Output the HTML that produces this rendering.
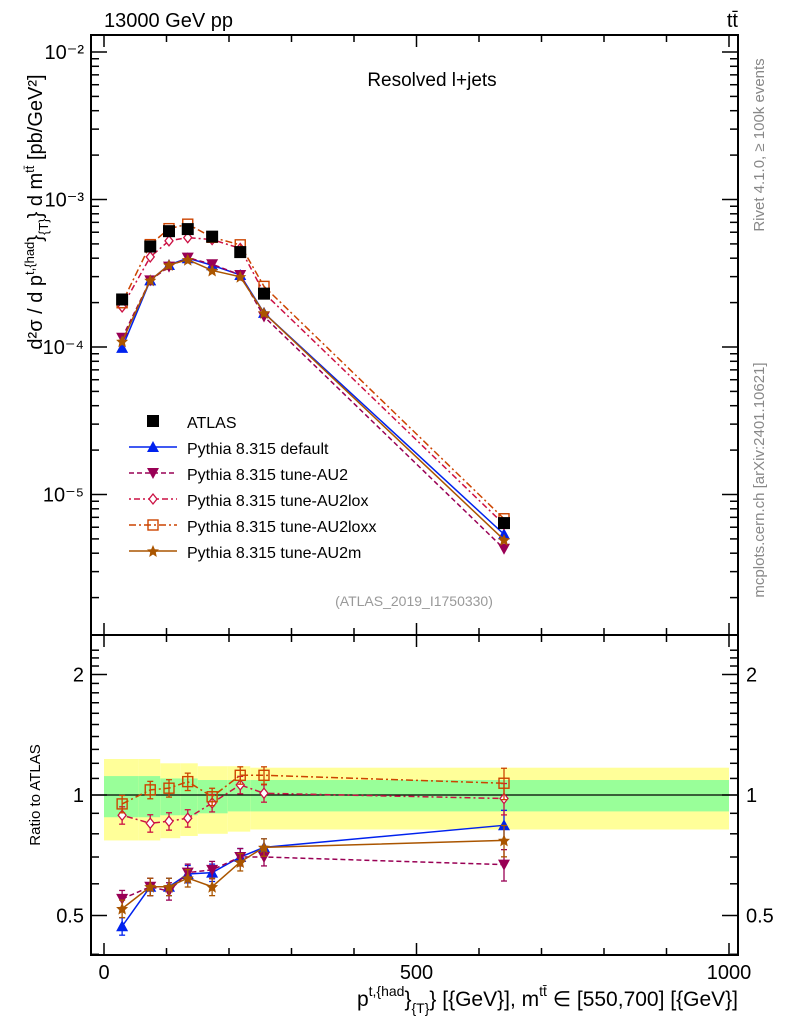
<!DOCTYPE html>
<html><head><meta charset="utf-8"><style>
body{margin:0;background:#fff}
svg text{font-family:"Liberation Sans",sans-serif}
</style></head><body>
<svg id="c" width="786" height="1024" xmlns="http://www.w3.org/2000/svg">
<text x="104" y="27" font-size="20">13000 GeV pp</text>
<text x="738" y="27" font-size="20" text-anchor="end">tt̄</text>
<text x="432" y="86" font-size="19" text-anchor="middle">Resolved l+jets</text>
<text x="414" y="606" font-size="14" fill="#999" text-anchor="middle">(ATLAS_2019_I1750330)</text>
<text transform="translate(764,145) rotate(-90)" font-size="15" fill="#888" text-anchor="middle">Rivet 4.1.0, ≥ 100k events</text>
<text transform="translate(764,480) rotate(-90)" font-size="15" fill="#888" text-anchor="middle">mcplots.cern.ch [arXiv:2401.10621]</text>
<text transform="translate(42,212) rotate(-90)" font-size="20" text-anchor="middle">d²σ / d p<tspan font-size="13" dy="-8">t,{had</tspan><tspan dy="8">}</tspan><tspan font-size="13" dy="6">{T}</tspan><tspan dy="-6">} d m</tspan><tspan font-size="13" dy="-8">tt̄</tspan><tspan dy="8"> [pb/GeV²]</tspan></text>
<text transform="translate(40,795) rotate(-90)" font-size="15" text-anchor="middle">Ratio to ATLAS</text>
<text x="738" y="1006" font-size="21" text-anchor="end">p<tspan font-size="14" dy="-10">t,{had</tspan><tspan dy="10">}</tspan><tspan font-size="14" dy="7">{T}</tspan><tspan dy="-7">} [{GeV}], m</tspan><tspan font-size="14" dy="-10">tt̄</tspan><tspan dy="10"> ∈ [550,700] [{GeV}]</tspan></text>
<g id="g"></g>
</svg>
<script>
const xs=[29,74,104,134,173,218,256,640];
const atlas=[2.1e-4,4.8e-4,6.1e-4,6.3e-4,5.6e-4,4.4e-4,2.3e-4,6.4e-6];
const rDefault=[0.47,0.59,0.59,0.635,0.64,0.70,0.74,0.84];
const rAU2=[0.55,0.59,0.575,0.64,0.65,0.70,0.70,0.67];
const rLox=[0.89,0.85,0.86,0.875,0.955,1.06,1.01,0.98];
const rLoxx=[0.95,1.03,1.04,1.08,0.99,1.12,1.12,1.07];
const rAU2m=[0.52,0.59,0.59,0.62,0.59,0.68,0.74,0.77];
const binEdges=[0,55,90,122,150,198,234,280,1000];
const yelUp=[1.23,1.23,1.20,1.20,1.18,1.18,1.17,1.17];
const yelLo=[0.77,0.77,0.78,0.79,0.80,0.81,0.82,0.82];
const grnUp=[1.115,1.115,1.10,1.10,1.09,1.09,1.09,1.09];
const grnLo=[0.88,0.88,0.89,0.89,0.90,0.91,0.91,0.91];
const xTicks=[0,500,1000];
const yTicks=[1e-5,1e-4,1e-3,1e-2];
const yTickLbl=["10⁻⁵","10⁻⁴","10⁻³","10⁻²"];
const rTicks=[0.5,1,2];

const L=91,R=738,T=35,M=635,B=955;
const X=v=>104+v*0.625;
const Y=v=>347-(Math.log10(v)+4)*147.5;
const RY=v=>795-Math.log2(v)*120.5;
const g=document.getElementById('g');
const NS='http://www.w3.org/2000/svg';
function el(t,a){const e=document.createElementNS(NS,t);for(const k in a)e.setAttribute(k,a[k]);g.appendChild(e);return e;}
for(let i=0;i<xs.length;i++){
 const x0=X(binEdges[i]),x1=X(binEdges[i+1]);
 const b=el('rect',{x:x0,y:RY(yelUp[i]),width:x1-x0,height:RY(yelLo[i])-RY(yelUp[i]),fill:'#ffff99'});
 
 
 const c=el('rect',{x:x0,y:RY(grnUp[i]),width:x1-x0,height:RY(grnLo[i])-RY(grnUp[i]),fill:'#99ff99'});
 
 
}
el('line',{x1:L,x2:R,y1:RY(1),y2:RY(1),stroke:'#000','stroke-width':1.2});
el('rect',{x:L,y:T,width:R-L,height:M-T,fill:'none',stroke:'#000','stroke-width':2});
el('rect',{x:L,y:M,width:R-L,height:B-M,fill:'none',stroke:'#000','stroke-width':2});
for(let v=0;v<=1000;v+=100){const big=v%500===0,l=big?12:7;
 for(const [y0,d] of [[T,1],[M,-1],[M,1],[B,-1]]) el('line',{x1:X(v),x2:X(v),y1:y0,y2:y0+d*l,stroke:'#000','stroke-width':1.5});}
xTicks.forEach(v=>{const t=el('text',{x:X(v),y:979,'font-size':20,'text-anchor':'middle'});t.textContent=v;
 
 });
for(let d=-6;d<=-2;d++)for(let m=1;m<10;m++){const v=m*Math.pow(10,d),y=Y(v);if(y<T||y>M)continue;const l=m===1?16:8;
 el('line',{x1:L,x2:L+l,y1:y,y2:y,stroke:'#000','stroke-width':1.5});el('line',{x1:R,x2:R-l,y1:y,y2:y,stroke:'#000','stroke-width':1.5});}
yTicks.forEach((v,i)=>{const t=el('text',{x:84,y:Y(v)+7,'font-size':20,'text-anchor':'end'});t.textContent=yTickLbl[i];
 
 });
for(let v=0.4;v<=2.4;v+=0.1){const y=RY(v);if(y<M||y>B)continue;const big=[0.5,1,2].some(k=>Math.abs(k-v)<1e-6),l=big?16:8;
 el('line',{x1:L,x2:L+l,y1:y,y2:y,stroke:'#000','stroke-width':1.5});el('line',{x1:R,x2:R-l,y1:y,y2:y,stroke:'#000','stroke-width':1.5});}
rTicks.forEach(v=>{for(const [x,a] of [[84,'end'],[746,'start']]){const t=el('text',{x:x,y:RY(v)+7,'font-size':20,'text-anchor':a});t.textContent=v;
 
 }});
function mark(type,x,y,c){
 if(type==='sq')el('rect',{x:x-6,y:y-6,width:12,height:12,fill:'#000'});
 else if(type==='up')el('path',{d:`M${x-6},${y+5}L${x+6},${y+5}L${x},${y-6}Z`,fill:c});
 else if(type==='down')el('path',{d:`M${x-6},${y-5}L${x+6},${y-5}L${x},${y+6}Z`,fill:c});
 else if(type==='dia')el('path',{d:`M${x},${y-5}L${x+4},${y}L${x},${y+5}L${x-4},${y}Z`,fill:'#fff',stroke:c,'stroke-width':1.3});
 else if(type==='osq')el('rect',{x:x-5,y:y-5,width:10,height:10,fill:'none',stroke:c,'stroke-width':1.4});
 else if(type==='star')el('path',{d:`M${x},${y-6}L${x+1.8},${y-1.8}L${x+6},${y-1.5}L${x+2.8},${y+1.5}L${x+3.8},${y+6}L${x},${y+3.5}L${x-3.8},${y+6}L${x-2.8},${y+1.5}L${x-6},${y-1.5}L${x-1.8},${y-1.8}Z`,fill:c});
}
const series=[
 {n:'default',r:rDefault,c:'#0022ee',m:'up',d:''},
 {n:'tune-AU2',r:rAU2,c:'#990055',m:'down',d:'5,3'},
 {n:'tune-AU2lox',r:rLox,c:'#cc1144',m:'dia',d:'2,3,6,3'},
 {n:'tune-AU2loxx',r:rLoxx,c:'#cc4400',m:'osq',d:'7,3,2,3'},
 {n:'tune-AU2m',r:rAU2m,c:'#aa5500',m:'star',d:''}];
series.forEach(s=>{
 const pm=xs.map((x,i)=>X(x)+','+Y(atlas[i]*s.r[i])).join(' ');
 const p=el('polyline',{points:pm,fill:'none',stroke:s.c,'stroke-width':1.5,'stroke-dasharray':s.d});
 
 
 const pr=xs.map((x,i)=>X(x)+','+RY(s.r[i])).join(' ');
 const q=el('polyline',{points:pr,fill:'none',stroke:s.c,'stroke-width':1.5,'stroke-dasharray':s.d});
 
 
 xs.forEach((x,i)=>{const e=(i===7?0.09:0.05)*s.r[i];
  el('line',{x1:X(x),x2:X(x),y1:RY(s.r[i]+e),y2:RY(s.r[i]-e),stroke:s.c,'stroke-width':1.3});
  el('line',{x1:X(x)-3,x2:X(x)+3,y1:RY(s.r[i]+e),y2:RY(s.r[i]+e),stroke:s.c,'stroke-width':1.3});
  el('line',{x1:X(x)-3,x2:X(x)+3,y1:RY(s.r[i]-e),y2:RY(s.r[i]-e),stroke:s.c,'stroke-width':1.3});
  mark(s.m,X(x),Y(atlas[i]*s.r[i]),s.c);mark(s.m,X(x),RY(s.r[i]),s.c);});
});
xs.forEach((x,i)=>mark('sq',X(x),Y(atlas[i])));
const lg=[['ATLAS','sq','#000',null,'']].concat(series.map(s=>['Pythia 8.315 '+s.n,s.m,s.c,1,s.d]));
lg.forEach((e,i)=>{const y=422+i*26;
 if(e[3])el('line',{x1:129,x2:177,y1:y-1,y2:y-1,stroke:e[2],'stroke-width':1.5,'stroke-dasharray':e[4]});
 mark(e[1],153,y-1,e[2]);
 const t=el('text',{x:187,y:y+6,'font-size':16});t.textContent=e[0];
 
 });
</script>
</body></html>
